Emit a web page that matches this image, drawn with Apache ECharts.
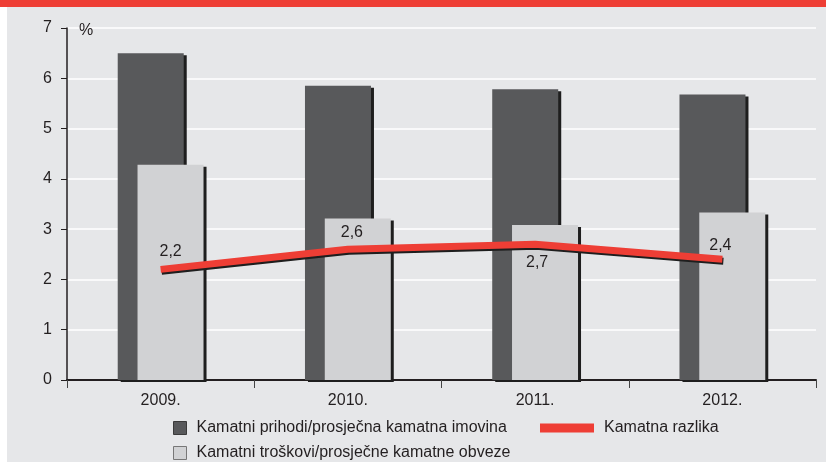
<!DOCTYPE html>
<html>
<head>
<meta charset="utf-8">
<script src="https://cdn.jsdelivr.net/npm/echarts@6/dist/echarts.min.js"></script>
<style>
  html, body { margin: 0; padding: 0; background: #fff; }
  #main { width: 826px; height: 462px; }
</style>
</head>
<body>
<div id="main"></div>
<script>
// podaci
var years = ['2009.', '2010.', '2011.', '2012.'];
var incomeRatio = [6.5, 5.85, 5.78, 5.68];   // Kamatni prihodi/prosječna kamatna imovina
var costRatio = [4.28, 3.21, 3.08, 3.33];    // Kamatni troškovi/prosječne kamatne obveze
var spread = [2.2, 2.6, 2.7, 2.4];           // Kamatna razlika
var spreadLabelPos = ['top', 'top', 'bottom', 'top'];
var spreadLabelOffset = [[10, 2], [4, 3], [2, -1], [-2, 6]];
var yTicks = [0, 1, 2, 3, 4, 5, 6, 7];

var nameIncome = 'Kamatni prihodi/prosječna kamatna imovina';
var nameCost = 'Kamatni troškovi/prosječne kamatne obveze';
var nameSpread = 'Kamatna razlika';

var font = '"Liberation Sans", Arial, sans-serif';
var ink = '#231f20';
var barShadow = { shadowColor: '#1e1e1e', shadowOffsetX: 3, shadowOffsetY: 2, shadowBlur: 0 };
var legendText = { fontFamily: font, fontSize: 16, color: ink, padding: [0, 0, 0, 5] };

var chart = echarts.init(document.getElementById('main'));

var option = {
    animation: false,
    textStyle: { fontFamily: font, color: ink },
    graphic: [
        { type: 'rect', z: -10, shape: { x: 7, y: 0, width: 819, height: 462 }, style: { fill: '#e6e7e9' } },
        { type: 'rect', z: -10, shape: { x: 0, y: 0, width: 826, height: 7 }, style: { fill: '#ee3e35' } }
    ],
    grid: { left: 67, right: 10, top: 28, bottom: 82 },
    legend: [
        {
            left: 173, top: 420, padding: 0, itemWidth: 13, itemHeight: 13,
            textStyle: legendText,
            data: [{ name: nameIncome, icon: 'rect', itemStyle: { color: '#58595b', borderColor: '#3a3a3a', borderWidth: 1 } }]
        },
        {
            left: 540, top: 420, padding: 0, itemWidth: 54, itemHeight: 9,
            textStyle: legendText,
            data: [{ name: nameSpread, icon: 'rect', itemStyle: { color: '#ee3e35' } }]
        },
        {
            left: 173, top: 445, padding: 0, itemWidth: 13, itemHeight: 13,
            textStyle: legendText,
            data: [{ name: nameCost, icon: 'rect', itemStyle: { color: '#d1d2d4', borderColor: '#777', borderWidth: 1 } }]
        }
    ],
    xAxis: {
        type: 'category',
        data: years,
        axisLine: { lineStyle: { color: ink, width: 2 } },
        axisTick: { show: true, length: 8, lineStyle: { color: '#444', width: 1 } },
        axisLabel: { fontSize: 16, color: ink, margin: 13, fontFamily: font }
    },
    yAxis: {
        type: 'value',
        min: 0, max: 7, interval: 1,
        name: '%',
        nameLocation: 'end',
        nameGap: -11,
        nameTextStyle: { fontSize: 16, color: ink, align: 'left', padding: [0, 0, 0, 12], fontFamily: font },
        axisLine: { show: true, lineStyle: { color: ink, width: 1.5 } },
        axisTick: { show: true, length: 6, lineStyle: { color: ink } },
        axisLabel: {
            fontSize: 16, color: ink, margin: 15, fontFamily: font,
            formatter: function (v) { return yTicks.indexOf(v) >= 0 ? String(v) : ''; }
        },
        splitLine: { show: true, lineStyle: { color: '#ffffff', width: 1.5 } }
    },
    series: [
        {
            name: nameIncome,
            type: 'bar',
            data: incomeRatio,
            barWidth: 66,
            barGap: '-70%',
            itemStyle: Object.assign({ color: '#58595b' }, barShadow)
        },
        {
            name: nameCost,
            type: 'bar',
            data: costRatio,
            barWidth: 66,
            itemStyle: Object.assign({ color: '#d1d2d4' }, barShadow)
        },
        {
            name: nameSpread,
            type: 'line',
            z: 5,
            data: spread.map(function (v, i) {
                return { value: v, label: { position: spreadLabelPos[i], offset: spreadLabelOffset[i] } };
            }),
            symbol: 'circle',
            symbolSize: 1,
            showSymbol: true,
            lineStyle: {
                color: '#ee3e35', width: 7,
                shadowColor: '#1e1e1e', shadowOffsetX: 1, shadowOffsetY: 2, shadowBlur: 0
            },
            itemStyle: { color: 'rgba(0,0,0,0)' },
            label: {
                show: true,
                fontSize: 16,
                color: ink,
                distance: 11,
                fontFamily: font,
                formatter: function (p) { return String(p.value).replace('.', ','); }
            }
        }
    ]
};

chart.setOption(option);
</script>
</body>
</html>
